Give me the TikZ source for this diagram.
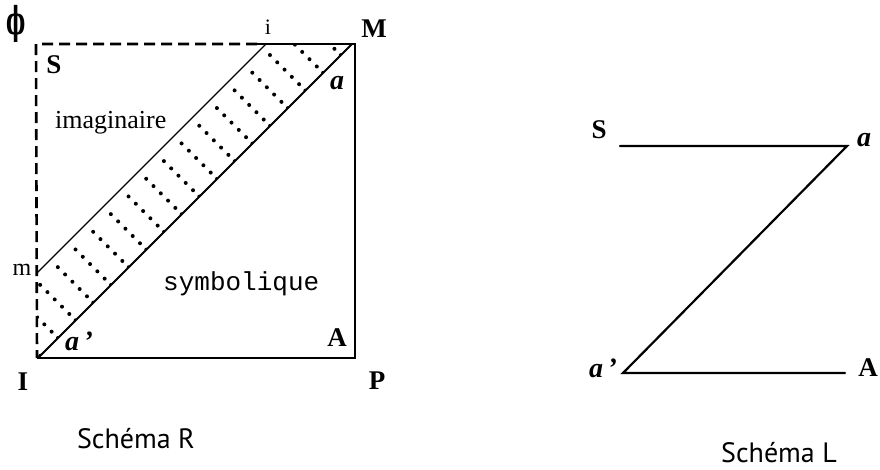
\documentclass[tikz,border=0pt]{standalone}
\usepackage{fontspec}
\setmainfont{Liberation Serif}
\setmonofont{Liberation Mono}
\newfontfamily\capfont{PT Sans}
\newfontfamily\phifont{DejaVu Serif}
\begin{document}
\begin{tikzpicture}[x=1pt,y=-1pt,
  lbl/.style={font=\fontsize{27}{27}\selectfont\bfseries, inner sep=0pt},
  ital/.style={font=\fontsize{28}{28}\selectfont\bfseries\itshape, inner sep=0pt},
  smalllbl/.style={font=\fontsize{22}{22}\selectfont, inner sep=0pt},
  captxt/.style={font=\capfont\fontsize{28}{28}\selectfont, inner sep=0pt, anchor=base},
  frame/.style={line width=2.6pt},
  dsh/.style={line width=2.6pt, dash pattern=on 11pt off 6pt},
  diag/.style={line width=1.2pt},
  zline/.style={line width=2.2pt, line cap=round}]
\useasboundingbox (0,0) rectangle (880,469);
% ---------------- Schema R ----------------
\coordinate (TL) at (36,44);
\coordinate (iT) at (257,44);
\coordinate (i) at (266,44);
\coordinate (M) at (355,44);
\coordinate (M2) at (352,44);
\coordinate (P) at (355,358);
\coordinate (I) at (37,358);
\coordinate (I2) at (38,358);
\coordinate (m) at (37,273);
% dotted band
\begin{scope}
  \clip (i) -- (M2) -- (I2) -- (m) -- cycle;
  \foreach \u in {-70,-45,...,405}{
    \foreach \v in {10.6,20.9,31.2,41.5,51.8,60.8}{
      \fill ({266+(\v-\u)*0.7071},{44+(\u+\v)*0.7071}) circle[radius=2pt];
    }
  }
\end{scope}
\draw[dsh] (iT) -- (TL) -- (I);
\draw[frame, line cap=butt] (iT) -- (M) -- (P) -- (I);
\draw[diag] (i) -- (m);
\draw[line width=2pt] (M2) -- (I2);
% labels
\node[inner sep=0pt, font=\phifont\bfseries\fontsize{24}{24}\selectfont] (phi) at (16,24) {\scalebox{0.85}[1.6]{ϕ}};
\node[smalllbl] (li) at (268,27) {i};
\node[lbl] (lM) at (374,29) {M};
\node[lbl] (lS) at (54,65) {S};
\node[ital] (la) at (337,83) {a};
\node[inner sep=0pt, font=\fontsize{26}{26}\selectfont, anchor=base west] (im) at (55,128) {imaginaire};
\node[inner sep=0pt, font=\fontsize{24}{24}\selectfont] (lm) at (22,270) {m};
\node[inner sep=0pt, font=\ttfamily\fontsize{26}{26}\selectfont, anchor=base west] (sy) at (163,290) {symbolique};
\node[ital] (lap) at (79,341) {a\,’};
\node[lbl] (lA) at (337,338) {A};
\node[lbl] (lI) at (23,382) {I};
\node[lbl] (lP) at (377,381) {P};
\node[captxt] (capR) at (136,448) {Schéma R};
% ---------------- Schema L ----------------
\coordinate (s1) at (620,146);
\coordinate (a1) at (847,146);
\coordinate (a2) at (623,373);
\coordinate (A2) at (845,373);
\draw[zline] (s1) -- (a1) -- (a2) -- (A2);
\node[lbl] (LS) at (599,130) {S};
\node[ital] (La) at (864,140) {a};
\node[ital] (Lap) at (603,368) {a\,’};
\node[lbl] (LA) at (868,368) {A};
\node[captxt] (capL) at (779,462) {Schéma L};
\end{tikzpicture}
\end{document}
